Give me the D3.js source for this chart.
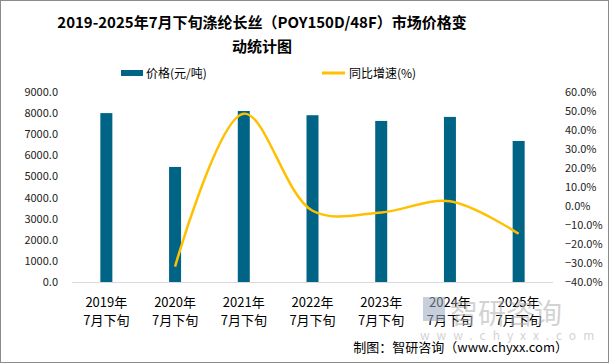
<!DOCTYPE html>
<html>
<head>
<meta charset="utf-8">
<script src="https://cdn.jsdelivr.net/npm/d3@7"></script>
<style>
  body { margin: 0; background: #fff; }
  svg { display: block; }
</style>
</head>
<body>
<script>
// categories and series
var years = ["2019年", "2020年", "2021年", "2022年", "2023年", "2024年", "2025年"];
var period = "7月下旬";
var prices = [8000, 5450, 8100, 7900, 7630, 7820, 6680];
var growth = [null, -31.9, 48.6, -2.5, -3.4, 2.5, -14.6];
var leftTicks = [0, 1000, 2000, 3000, 4000, 5000, 6000, 7000, 8000, 9000];
var rightTicks = [-40, -30, -20, -10, 0, 10, 20, 30, 40, 50, 60];

var W = 609, H = 363;
var margin = {top: 92, right: 56, bottom: 81, left: 72};
var width = W - margin.left - margin.right,
    height = H - margin.top - margin.bottom;

var svg = d3.select("body").append("svg")
    .attr("width", W)
    .attr("height", H);

// frame
svg.append("rect")
    .attr("x", 0.5).attr("y", 0.5)
    .attr("width", W - 1).attr("height", H - 1)
    .attr("fill", "#fff")
    .attr("stroke", "#8c8c8c");

var font = "'Noto Sans CJK SC', 'DejaVu Sans', sans-serif";

// title
var title = svg.append("text")
    .attr("text-anchor", "middle")
    .attr("font-family", font)
    .attr("font-weight", "bold")
    .attr("font-size", 15)
    .attr("fill", "#000");
title.append("tspan").attr("x", 262).attr("y", 28)
    .text("2019-2025年7月下旬涤纶长丝（POY150D/48F）市场价格变");
title.append("tspan").attr("x", 262).attr("y", 52).text("动统计图");

// legend
var legend = svg.append("g").attr("font-family", font).attr("font-size", 12).attr("fill", "#000");
legend.append("rect").attr("x", 121).attr("y", 70).attr("width", 22).attr("height", 6).attr("fill", "#006487");
legend.append("text").attr("x", 146).attr("y", 78).text("价格(元/吨)");
legend.append("line").attr("x1", 322).attr("x2", 345).attr("y1", 73).attr("y2", 73)
    .attr("stroke", "#FFC000").attr("stroke-width", 3);
legend.append("text").attr("x", 349).attr("y", 78).text("同比增速(%)");

var g = svg.append("g")
    .attr("transform", "translate(" + margin.left + "," + margin.top + ")");

var x = d3.scaleBand().domain(years).range([0, width]);
var yL = d3.scaleLinear().domain([0, 9000]).range([height, 0]);
var yR = d3.scaleLinear().domain([-40, 60]).range([height, 0]);

// left axis
var axisL = g.append("g")
    .call(d3.axisLeft(yL).tickValues(leftTicks).tickSize(0).tickPadding(14)
      .tickFormat(function(d) { return d3.format(".1f")(d); }));
axisL.select(".domain").remove();
axisL.selectAll("text").attr("font-family", font).attr("font-size", 11).attr("fill", "#222");

// right axis
var axisR = g.append("g")
    .attr("transform", "translate(" + width + ",0)")
    .call(d3.axisRight(yR).tickValues(rightTicks).tickSize(0).tickPadding(12)
      .tickFormat(function(d) { return d3.format(".1f")(d) + "%"; }));
axisR.select(".domain").remove();
axisR.selectAll("text").attr("font-family", font).attr("font-size", 11).attr("fill", "#222");

// baseline
g.append("line")
    .attr("x1", 0).attr("x2", width)
    .attr("y1", height + 0.5).attr("y2", height + 0.5)
    .attr("stroke", "#d9d9d9");

// bars
var barW = 12;
g.selectAll("rect.bar")
    .data(prices)
    .enter().append("rect")
    .attr("class", "bar")
    .attr("x", function(d, i) { return x(years[i]) + x.bandwidth() / 2 - barW / 2; })
    .attr("y", function(d) { return yL(d); })
    .attr("width", barW)
    .attr("height", function(d) { return height - yL(d); })
    .attr("fill", "#006487");

// growth line
var lineData = growth.map(function(v, i) { return {k: years[i], v: v}; })
    .filter(function(d) { return d.v !== null; });
var line = d3.line()
    .x(function(d) { return x(d.k) + x.bandwidth() / 2; })
    .y(function(d) { return yR(d.v); })
    .curve(d3.curveCatmullRom.alpha(0.5));
g.append("path")
    .datum(lineData)
    .attr("d", line)
    .attr("fill", "none")
    .attr("stroke", "#FFC000")
    .attr("stroke-width", 2.5);

// x labels
var xl = g.append("g").attr("font-family", font).attr("font-size", 13).attr("fill", "#000")
    .attr("text-anchor", "middle");
years.forEach(function(yr) {
  var cx = x(yr) + x.bandwidth() / 2;
  xl.append("text").attr("x", cx).attr("y", height + 25).text(yr);
  xl.append("text").attr("x", cx).attr("y", height + 43).text(period);
});

// watermark (semi-transparent, over the labels like the original)
var wm = svg.append("g").attr("font-family", font).attr("fill", "#b0b0b0").attr("opacity", 0.55);
wm.append("rect").attr("x", 423).attr("y", 297).attr("width", 22).attr("height", 24).attr("fill", "#9aa8c0");
wm.append("text").attr("x", 450).attr("y", 324).attr("font-size", 28).text("智研咨询");
wm.append("text").attr("x", 420).attr("y", 340).attr("font-size", 12)
    .attr("letter-spacing", 7).text("www.chyxx.com");

// source
svg.append("text")
    .attr("x", 568).attr("y", 352)
    .attr("text-anchor", "end")
    .attr("font-family", font)
    .attr("font-size", 13)
    .attr("fill", "#000")
    .text("制图：智研咨询（www.chyxx.com）");
</script>
</body>
</html>
